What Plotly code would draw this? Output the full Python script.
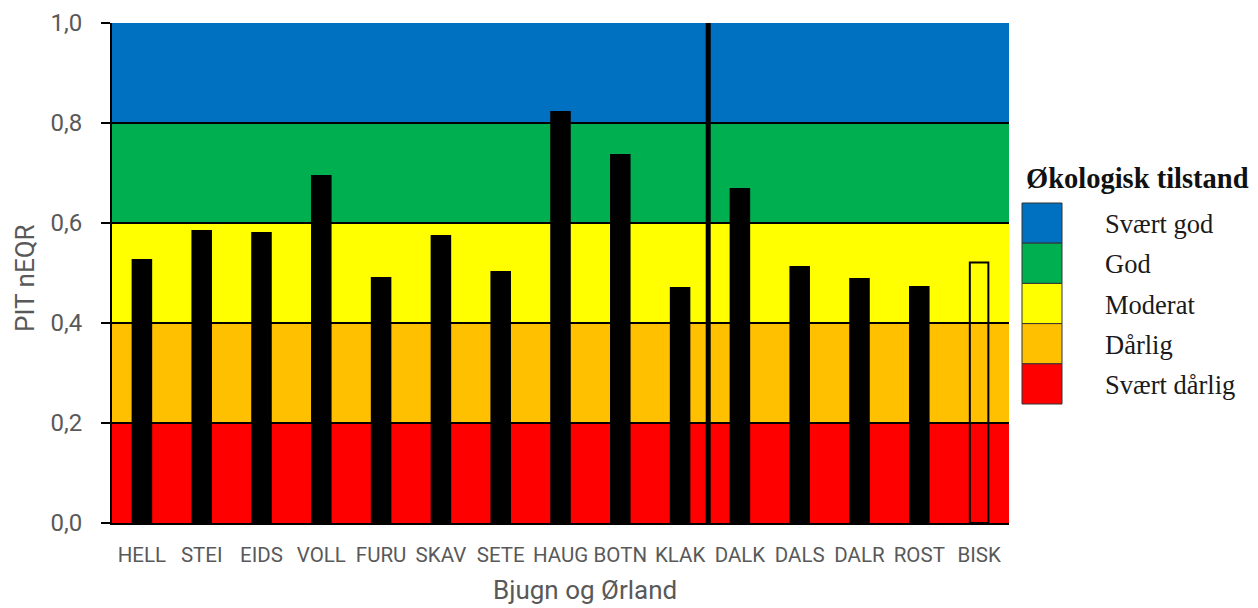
import plotly.graph_objects as go

# ---- data ----
stations = ["HELL", "STEI", "EIDS", "VOLL", "FURU", "SKAV", "SETE", "HAUG",
            "BOTN", "KLAK", "DALK", "DALS", "DALR", "ROST", "BISK"]
pit_neqr = [0.526, 0.584, 0.580, 0.694, 0.490, 0.574, 0.502, 0.822,
            0.736, 0.470, 0.668, 0.512, 0.488, 0.472, 0.521]
open_bars = ["BISK"]            # drawn as outline only
divider_after = "KLAK"          # vertical separator between the two groups

class_names = ["Svært god", "God", "Moderat", "Dårlig", "Svært dårlig"]
class_lower = [0.8, 0.6, 0.4, 0.2, 0.0]
class_upper = [1.0, 0.8, 0.6, 0.4, 0.2]
class_colors = ["#0070C0", "#00B050", "#FFFF00", "#FFC000", "#FF0000"]
y_ticks = [0.0, 0.2, 0.4, 0.6, 0.8, 1.0]

x_title = "Bjugn og Ørland"
y_title = "PIT nEQR"
legend_title = "Økologisk tilstand"

GREY = "#595959"
SANS = "Roboto"
SERIF = "Liberation Serif"

# page body has an 8px margin -> work in reference pixel coords and shift
OFF = 8
W, H = 1250, 600
ml, mt = 112 - OFF, 23 - OFF
pw, ph = 897, 500
mr, mb = W - ml - pw, H - mt - ph

def px_x(px):
    return (px - OFF - ml) / pw

def px_y(py):
    return 1 - (py - OFF - mt) / ph

fig = go.Figure()

xs = list(range(len(stations)))
fills = ["rgba(0,0,0,0)" if s in open_bars else "black" for s in stations]
fig.add_trace(go.Bar(
    x=xs, y=pit_neqr, width=0.31,
    marker=dict(color=fills, line=dict(color="black", width=2)),
    showlegend=False, hoverinfo="x+y",
))

shapes = []
for lo, hi, col in zip(class_lower, class_upper, class_colors):
    shapes.append(dict(type="rect", xref="x domain", yref="y", x0=0, x1=1,
                       y0=lo, y1=hi, fillcolor=col, line=dict(width=0),
                       layer="below"))

div_x = stations.index(divider_after) + 0.47
shapes.append(dict(type="line", xref="x", yref="y", x0=div_x, x1=div_x,
                   y0=0, y1=1.005, line=dict(color="black", width=5),
                   layer="above"))

annotations = []
box_top, box_h = 203, 40.2
for i, (name, col) in enumerate(zip(class_names, class_colors)):
    y0 = box_top + i * box_h
    y1 = y0 + box_h
    shapes.append(dict(type="rect", xref="paper", yref="paper",
                       x0=px_x(1022), x1=px_x(1062),
                       y0=px_y(y1), y1=px_y(y0),
                       fillcolor=col, line=dict(color="#333333", width=1)))
    annotations.append(dict(xref="paper", yref="paper",
                            x=px_x(1103), y=px_y((y0 + y1) / 2 + 1),
                            text=name, showarrow=False, xanchor="left",
                            yanchor="middle",
                            font=dict(family=SERIF, size=26.5, color="#1a1a1a")))
annotations.append(dict(xref="paper", yref="paper",
                        x=px_x(1024), y=px_y(178),
                        text="<b>" + legend_title + "</b>", showarrow=False,
                        xanchor="left", yanchor="middle",
                        font=dict(family=SERIF, size=28.5, color="#111111")))
annotations.append(dict(xref="paper", yref="paper", x=px_x(585), y=px_y(590),
                        text=x_title, showarrow=False, xanchor="center",
                        yanchor="middle",
                        font=dict(family=SANS, size=26, color=GREY)))
annotations.append(dict(xref="paper", yref="paper", x=px_x(25), y=px_y(278),
                        text=y_title, showarrow=False, xanchor="center",
                        yanchor="middle", textangle=-90,
                        font=dict(family=SANS, size=26, color=GREY)))

fig.update_layout(
    width=W, height=H,
    margin=dict(l=ml, r=mr, t=mt, b=mb, pad=0),
    paper_bgcolor="white", plot_bgcolor="white",
    separators=",.",
    shapes=shapes, annotations=annotations,
    font=dict(family=SANS, color=GREY),
)
fig.update_xaxes(
    tickmode="array", tickvals=xs, ticktext=stations,
    range=[-0.5, len(stations) - 0.5], automargin=False,
    showline=True, linecolor="black", linewidth=2,
    showgrid=False, ticks="", ticklabelstandoff=12,
    tickfont=dict(family=SANS, size=20.5, color=GREY),
)
fig.update_yaxes(
    range=[0, 1.0], tickmode="array", tickvals=y_ticks, tickformat=".1f",
    automargin=False,
    showline=True, linecolor="black", linewidth=2,
    ticks="outside", ticklen=9, tickwidth=2, tickcolor="black",
    showgrid=True, gridcolor="black", gridwidth=2,
    zeroline=False, ticklabelstandoff=14,
    tickfont=dict(family=SANS, size=24, color=GREY),
)

fig.write_html("out.html")
